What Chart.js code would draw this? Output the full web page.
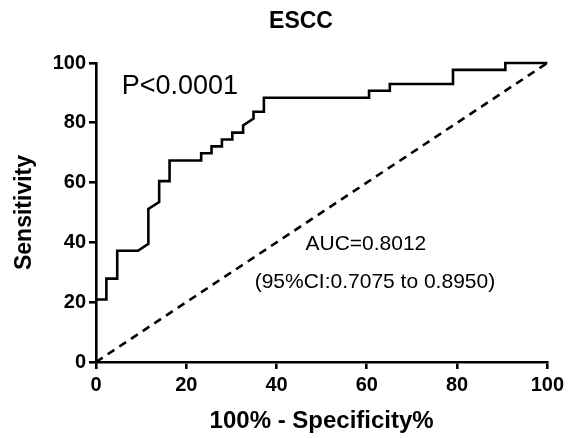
<!DOCTYPE html>
<html>
<head>
<meta charset="utf-8">
<script src="https://cdn.jsdelivr.net/npm/chart.js@4.4.1/dist/chart.umd.min.js"></script>
<style>
  html, body { margin: 0; padding: 0; background: #fff; }
  #wrap { width: 568px; height: 438px; }
</style>
</head>
<body>
<div id="wrap"><canvas id="roc" width="568" height="438"></canvas></div>
<script>
// ROC curve (100% - specificity, sensitivity)
const fpr = [0, 2.3, 2.3, 4.7, 4.7, 9.3, 11.6, 11.6, 14.0, 14.0, 16.3, 16.3, 23.3, 23.3, 25.6, 25.6, 27.9, 27.9,
  30.2, 30.2, 32.6, 32.6, 34.9, 34.9, 37.2, 37.2, 60.5, 60.5, 65.1, 65.1, 79.1, 79.1, 90.7, 90.7, 100];
const sens = [20.9, 20.9, 27.9, 27.9, 37.2, 37.2, 39.5, 51.2, 53.5, 60.5, 60.5, 67.4, 67.4, 69.8, 69.8, 72.1, 72.1, 74.4,
  74.4, 76.7, 76.7, 79.1, 81.4, 83.7, 83.7, 88.4, 88.4, 90.7, 90.7, 93.0, 93.0, 97.7, 97.7, 100, 100];
const refX = [0, 100];
const refY = [0, 100];
const axisTicks = [0, 20, 40, 60, 80, 100];

const FONT = "'Liberation Sans', Arial, sans-serif";

const notes = [
  { text: 'P<0.0001', x: 5.7, y: 92, size: 27, align: 'left' },
  { text: 'AUC=0.8012', x: 59.8, y: 39.5, size: 21, align: 'center' },
  { text: '(95%CI:0.7075 to 0.8950)', x: 61.8, y: 26.8, size: 21, align: 'center' },
];

const textPlugin = {
  id: 'texts',
  afterDraw(chart) {
    const c = chart.ctx;
    const xs = chart.scales.x, ys = chart.scales.y;
    c.save();
    c.fillStyle = '#000';
    c.textBaseline = 'middle';
    notes.forEach((n) => {
      c.font = n.size + 'px ' + FONT;
      c.textAlign = n.align;
      c.fillText(n.text, xs.getPixelForValue(n.x), ys.getPixelForValue(n.y));
    });
    // chart title
    c.font = 'bold 23px ' + FONT;
    c.textAlign = 'center';
    c.fillText('ESCC', 301, 22);
    c.restore();
  },
};

const ctx = document.getElementById('roc');
new Chart(ctx, {
  type: 'line',
  data: {
    datasets: [
      {
        data: fpr.map((v, i) => ({ x: v, y: sens[i] })),
        borderColor: '#000',
        borderWidth: 2.6,
        pointRadius: 0,
        tension: 0,
        clip: false,
      },
      {
        data: refX.map((v, i) => ({ x: v, y: refY[i] })),
        borderColor: '#000',
        borderWidth: 2.6,
        borderDash: [8, 6],
        pointRadius: 0,
        clip: false,
      },
    ],
  },
  options: {
    animation: false,
    responsive: false,
    layout: { padding: { top: 63, right: 20, left: 0, bottom: 0 } },
    plugins: {
      legend: { display: false },
      tooltip: { enabled: false },
    },
    scales: {
      x: {
        type: 'linear',
        min: 0,
        max: 100,
        afterBuildTicks: (s) => { s.ticks = axisTicks.map((v) => ({ value: v })); },
        afterFit: (s) => { s.height = 76; },
        grid: { drawOnChartArea: false, drawTicks: true, tickLength: 7, color: '#000', lineWidth: 2.6 },
        border: { display: true, color: '#000', width: 2.6 },
        ticks: { color: '#000', padding: 4, maxRotation: 0, font: { family: FONT, size: 20, weight: 'bold' } },
        title: {
          display: true,
          text: '100% - Specificity%',
          color: '#000',
          padding: { top: 0, bottom: 2 },
          font: { family: FONT, size: 24, weight: 'bold' },
        },
      },
      y: {
        type: 'linear',
        min: 0,
        max: 100,
        afterBuildTicks: (s) => { s.ticks = axisTicks.map((v) => ({ value: v })); },
        afterFit: (s) => { s.width = 96; },
        grid: { drawOnChartArea: false, drawTicks: true, tickLength: 7, color: '#000', lineWidth: 2.6 },
        border: { display: true, color: '#000', width: 2.6 },
        ticks: { color: '#000', padding: 3, font: { family: FONT, size: 20, weight: 'bold' } },
        title: {
          display: true,
          text: 'Sensitivity',
          color: '#000',
          padding: { top: 11, bottom: 0 },
          font: { family: FONT, size: 23, weight: 'bold' },
        },
      },
    },
  },
  plugins: [textPlugin],
});
</script>
</body>
</html>
